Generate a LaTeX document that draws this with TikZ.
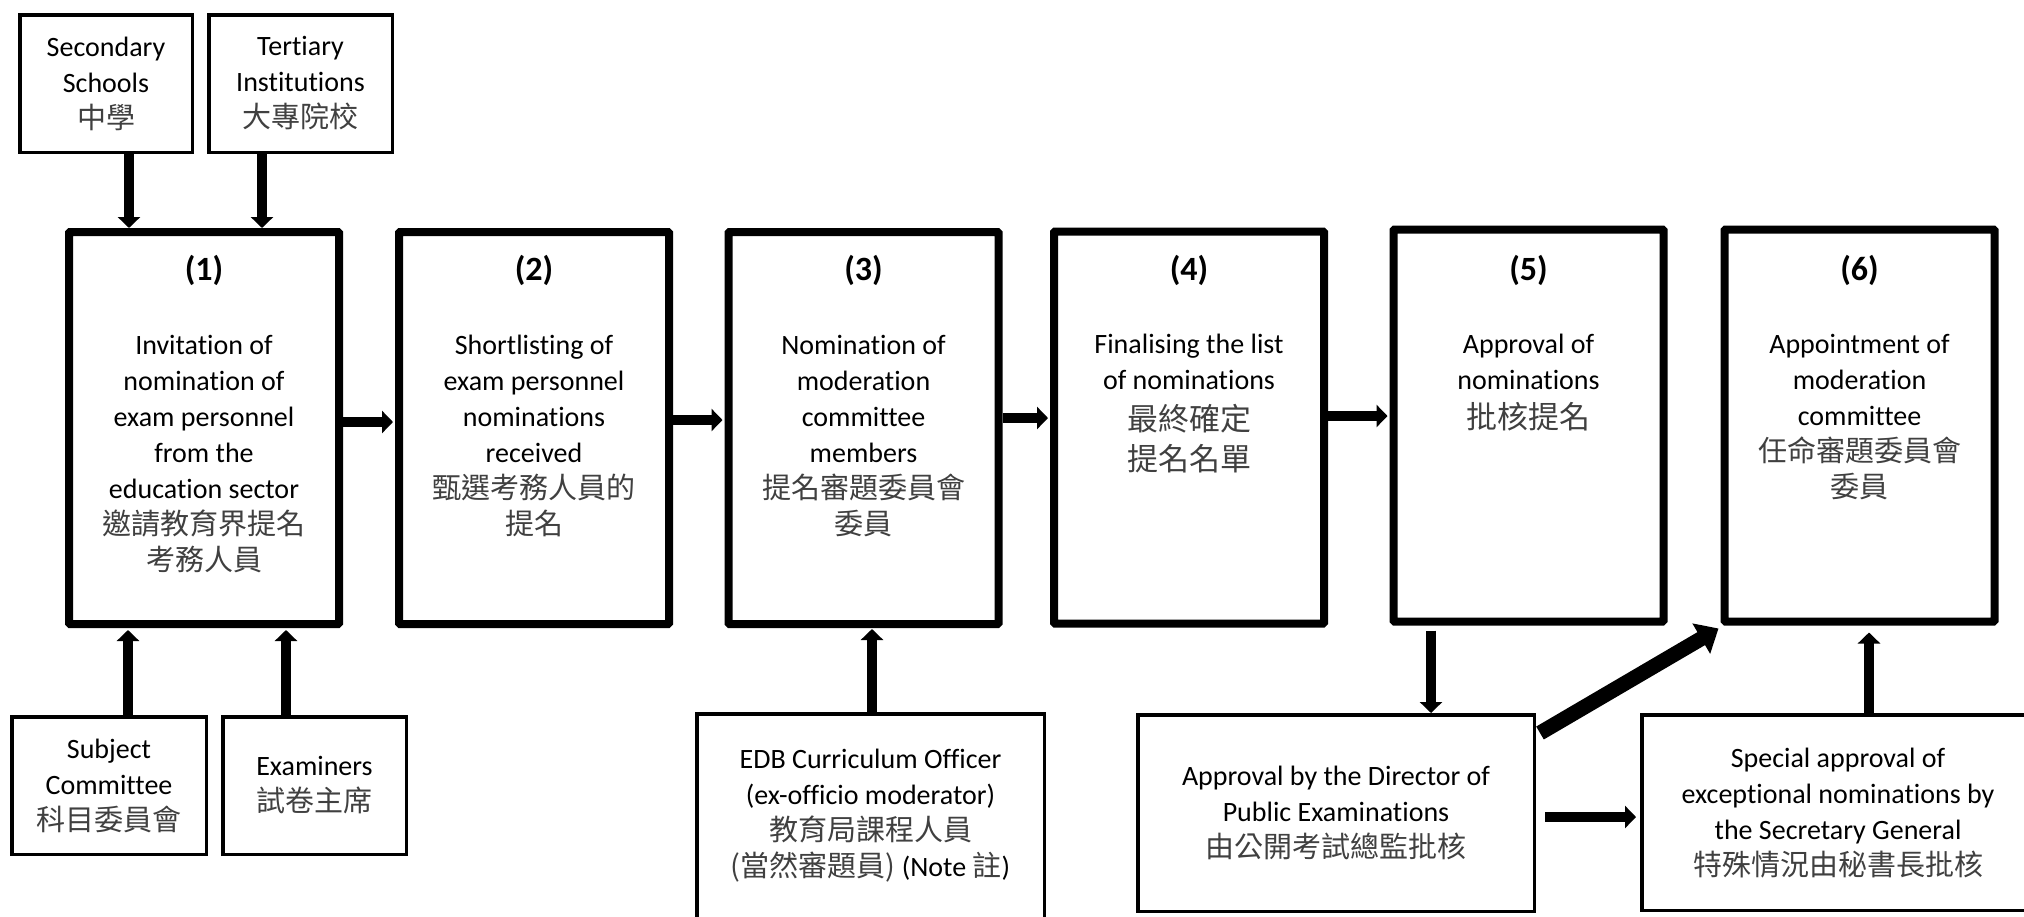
\documentclass[tikz,border=0pt]{standalone}
\usepackage{fontspec}
\setmainfont{Carlito}[Ligatures={NoCommon}]
\newfontfamily\cjk{Noto Sans CJK TC}
\usetikzlibrary{arrows.meta}
\newcommand\zh[1]{{\cjk\fontsize{29}{36}\selectfont\color{black!75}#1}}
\newcommand\zhb[1]{{\cjk\fontsize{31}{36}\selectfont\color{black!75}#1}}
\newcommand\fl{\rule{0pt}{24pt}}
\begin{document}
\begin{tikzpicture}[x=1pt,y=-1pt,
 bigbox/.style={draw, line width=8pt, minimum width=270pt, minimum height=392pt, inner sep=0pt, rounded corners=1pt},
 smallbox/.style={draw, line width=3.5pt, inner sep=0pt, align=center, font=\fontsize{28}{36}\selectfont},
 numtxt/.style={font=\fontsize{34}{36}\selectfont\bfseries, inner sep=0pt},
 bodytxt/.style={anchor=north, align=center, inner sep=0pt, font=\fontsize{28}{36}\selectfont},
 arr/.style={line width=10pt, -{Triangle[length=11pt,width=22pt]}},
 bigarr/.style={line width=15pt, -{Triangle[length=20pt,width=34pt]}},
]
\fill[white] (0,0) rectangle (2024,916);
\useasboundingbox (0,0) rectangle (2024,916);

% top boxes
\node[bigbox] (b1) at (204,428) {};
\node[bigbox] (b2) at (534,428) {};
\node[bigbox] (b3) at (863.5,428) {};
\node[bigbox] (b4) at (1189,427.5) {};
\node[bigbox] (b5) at (1528.5,425.5) {};
\node[bigbox] (b6) at (1859.5,425.5) {};

\foreach \i in {1,...,6} {
  \node[numtxt] (n\i) at (b\i.north |- 0,270) {(\i)};
}

\node[bodytxt] (t1) at ([yshift=-102pt]b1.north) {\fl Invitation of\\nomination of\\exam personnel\\from the\\education sector\\\zh{邀請教育界提名}\\\zh{考務人員}};
\node[bodytxt] (t2) at ([yshift=-102pt]b2.north) {\fl Shortlisting of\\exam personnel\\nominations\\received\\\zh{甄選考務人員的}\\\zh{提名}};
\node[bodytxt] (t3) at ([yshift=-102pt]b3.north) {\fl Nomination of\\moderation\\committee\\members\\\zh{提名審題委員會}\\\zh{委員}};
\node[bodytxt] (t4) at ([yshift=-101.5pt]b4.north) {\fl Finalising the list\\of nominations\\[5pt]\zhb{最終確定}\\[4pt]\zhb{提名名單}};
\node[bodytxt] (t5) at ([yshift=-104pt]b5.north) {\fl Approval of\\nominations\\[3pt]\zhb{批核提名}};
\node[bodytxt] (t6) at ([yshift=-104pt]b6.north) {\fl Appointment of\\moderation\\committee\\\zh{任命審題委員會}\\\zh{委員}};

% small boxes
\node[smallbox, minimum width=172.5pt, minimum height=137.5pt] (sec) at (106,83.5) {Secondary\\Schools\\\zh{中學}};
\node[smallbox, minimum width=183.5pt, minimum height=137.5pt] (ter) at (300.5,83.5) {Tertiary\\Institutions\\\zh{大專院校}};
\node[smallbox, minimum width=194.5pt, minimum height=137.5pt] (subj) at (109,785.5) {Subject\\Committee\\\zh{科目委員會}};
\node[smallbox, minimum width=183.5pt, minimum height=137.5pt] (exam) at (314.5,785.5) {Examiners\\\zh{試卷主席}};
\node[smallbox, minimum width=347.5pt, minimum height=224.5pt] (edb) at (870.5,826) {};
\node[align=center, inner sep=0pt, font=\fontsize{28}{36}\selectfont] (edbt) at (870.5,816) {EDB Curriculum Officer\\(ex-officio moderator)\\\zh{教育局課程人員}\\\zh{(當然審題員)} (Note \zh{註})};
\node[smallbox, minimum width=396.5pt, minimum height=196.5pt] (dir) at (1336,813) {Approval by the Director of\\Public Examinations\\\zh{由公開考試總監批核}};
\node[smallbox, minimum width=406.5pt, minimum height=195.5pt] (spec) at (1845,812.5) {};
\node[align=center, inner sep=0pt, font=\fontsize{28}{36}\selectfont] (spect) at (1838,813) {Special approval of\\exceptional nominations by\\the Secretary General\\\zh{特殊情況由秘書長批核}};

% helper coordinates
\coordinate (ax1) at (129,0);
\coordinate (ax2) at (262,0);
\coordinate (ax3) at (128,0);
\coordinate (ax4) at (286,0);
\coordinate (ax5) at (872,0);
\coordinate (ax6) at (1431,0);
\coordinate (ax7) at (1869,0);
\coordinate (hy1) at (0,422);
\coordinate (hy2) at (0,420);
\coordinate (hy3) at (0,418);
\coordinate (hy4) at (0,416);
\coordinate (hy5) at (0,817);

% arrows
\draw[arr] (sec.south -| ax1) -- (b1.north -| ax1);
\draw[arr] (ter.south -| ax2) -- (b1.north -| ax2);
\draw[arr] (subj.north -| ax3) -- ([yshift=-2pt]b1.south -| ax3);
\draw[arr] (exam.north -| ax4) -- ([yshift=-2pt]b1.south -| ax4);
\draw[arr, shorten >=2pt] (b1.east |- hy1) -- (b2.west |- hy1);
\draw[arr, shorten >=2pt] (b2.east |- hy2) -- (b3.west |- hy2);
\draw[arr, shorten >=2pt] (b3.east |- hy3) -- (b4.west |- hy3);
\draw[arr, shorten >=2pt] (b4.east |- hy4) -- (b5.west |- hy4);
\draw[arr] (edb.north -| ax5) -- ([yshift=-1pt]b3.south -| ax5);
\draw[arr, shorten <=5pt] (b5.south -| ax6) -- (dir.north -| ax6);
\draw[bigarr] ([xshift=4pt,yshift=-20pt]dir.north east) -- ([xshift=-2pt,yshift=-3pt]b6.south west);
\draw[arr, shorten <=9pt, shorten >=4pt] (dir.east |- hy5) -- (spec.west |- hy5);
\draw[arr, shorten >=7pt] (spec.north -| ax7) -- (b6.south -| ax7);
\end{tikzpicture}
\end{document}
